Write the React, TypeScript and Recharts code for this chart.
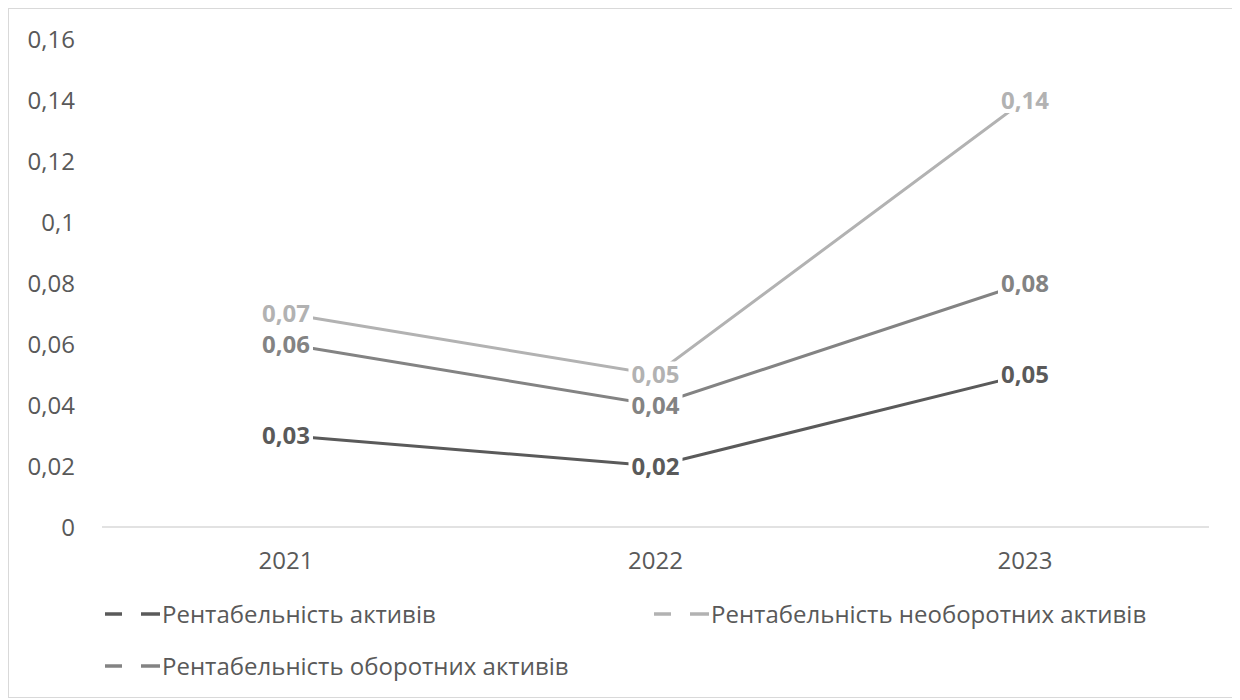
import React from 'react';
import { LineChart, Line, XAxis, YAxis, Legend, LabelList } from 'recharts';

const years = ['2021', '2022', '2023'];
const assetsReturn = [0.03, 0.02, 0.05];
const nonCurrentReturn = [0.07, 0.05, 0.14];
const currentReturn = [0.06, 0.04, 0.08];
const yTicks = [0, 0.02, 0.04, 0.06, 0.08, 0.1, 0.12, 0.14, 0.16];

const seriesNames = {
  assets: 'Рентабельність активів',
  nonCurrent: 'Рентабельність необоротних активів',
  current: 'Рентабельність оборотних активів',
};

const colors = {
  assets: '#5a5a5a',
  nonCurrent: '#b2b2b2',
  current: '#838383',
};

const chartData = years.map((year, i) => ({
  year,
  assets: assetsReturn[i],
  nonCurrent: nonCurrentReturn[i],
  current: currentReturn[i],
}));

const FONT = '"Open Sans", sans-serif';
const FS = 24;
const comma = (v: number) => String(v).replace('.', ',');

// value label sitting on the point, on a white box that hides the line under it
const makeLabel = (color: string) => (props: any) => {
  const { x, y, value } = props;
  if (x == null || y == null) return null;
  const w = 54;
  const h = 26;
  return (
    <g>
      <rect x={x - w / 2} y={y - h / 2} width={w} height={h} fill="#fff" />
      <text
        x={x}
        y={y}
        dy="0.36em"
        textAnchor="middle"
        fill={color}
        fontFamily={FONT}
        fontWeight={700}
        fontSize={FS}
      >
        {Number(value).toFixed(2).replace('.', ',')}
      </text>
    </g>
  );
};

const legendItems = [
  { key: 'assets', left: 96, top: 20 },
  { key: 'nonCurrent', left: 645, top: 20 },
  { key: 'current', left: 96, top: 72 },
] as const;

function LegendBox() {
  return (
    <div style={{ position: 'relative', height: 110, fontFamily: FONT, fontSize: FS, color: '#595959' }}>
      {legendItems.map(({ key, left, top }) => (
        <div key={key} style={{ position: 'absolute', left, top, display: 'flex', alignItems: 'center', whiteSpace: 'nowrap' }}>
          <svg width={55} height={24} style={{ marginRight: 2 }}>
            <line x1={0} y1={12} x2={17} y2={12} stroke={colors[key]} strokeWidth={3.5} />
            <line x1={36} y1={12} x2={55} y2={12} stroke={colors[key]} strokeWidth={3.5} />
          </svg>
          <span>{seriesNames[key]}</span>
        </div>
      ))}
    </div>
  );
}

export default function App() {
  const keys = ['assets', 'current', 'nonCurrent'] as const;
  return (
    <div
      style={{
        width: 1231,
        height: 690,
        border: '1px solid #d9d9d9',
        boxSizing: 'border-box',
        background: '#fff',
      }}
    >
      <LineChart
        width={1229}
        height={688}
        data={chartData}
        margin={{ top: 30, right: 29, left: 0, bottom: 10 }}
      >
        <XAxis
          dataKey="year"
          padding={{ left: 184, right: 184 }}
          axisLine={{ stroke: '#d9d9d9', strokeWidth: 1.5 }}
          tickLine={false}
          tickMargin={19}
          height={50}
          tick={{ fill: '#595959', fontFamily: FONT, fontSize: FS }}
        />
        <YAxis
          width={93}
          domain={[0, 0.16]}
          ticks={yTicks}
          tickFormatter={comma}
          axisLine={false}
          tickLine={false}
          tickMargin={21}
          tick={{ fill: '#595959', fontFamily: FONT, fontSize: FS }}
        />
        <Legend verticalAlign="bottom" height={110} content={() => <LegendBox />} />
        {keys.map((k) => (
          <Line
            key={k}
            type="linear"
            dataKey={k}
            name={seriesNames[k]}
            stroke={colors[k]}
            strokeWidth={3}
            strokeLinecap="round"
            dot={false}
            activeDot={false}
            isAnimationActive={false}
          />
        ))}
        {/* label-only layers so the label boxes sit above every line */}
        {keys.map((k) => (
          <Line
            key={`lbl-${k}`}
            type="linear"
            dataKey={k}
            stroke="none"
            dot={false}
            activeDot={false}
            legendType="none"
            isAnimationActive={false}
          >
            <LabelList dataKey={k} content={makeLabel(colors[k])} />
          </Line>
        ))}
      </LineChart>
    </div>
  );
}
